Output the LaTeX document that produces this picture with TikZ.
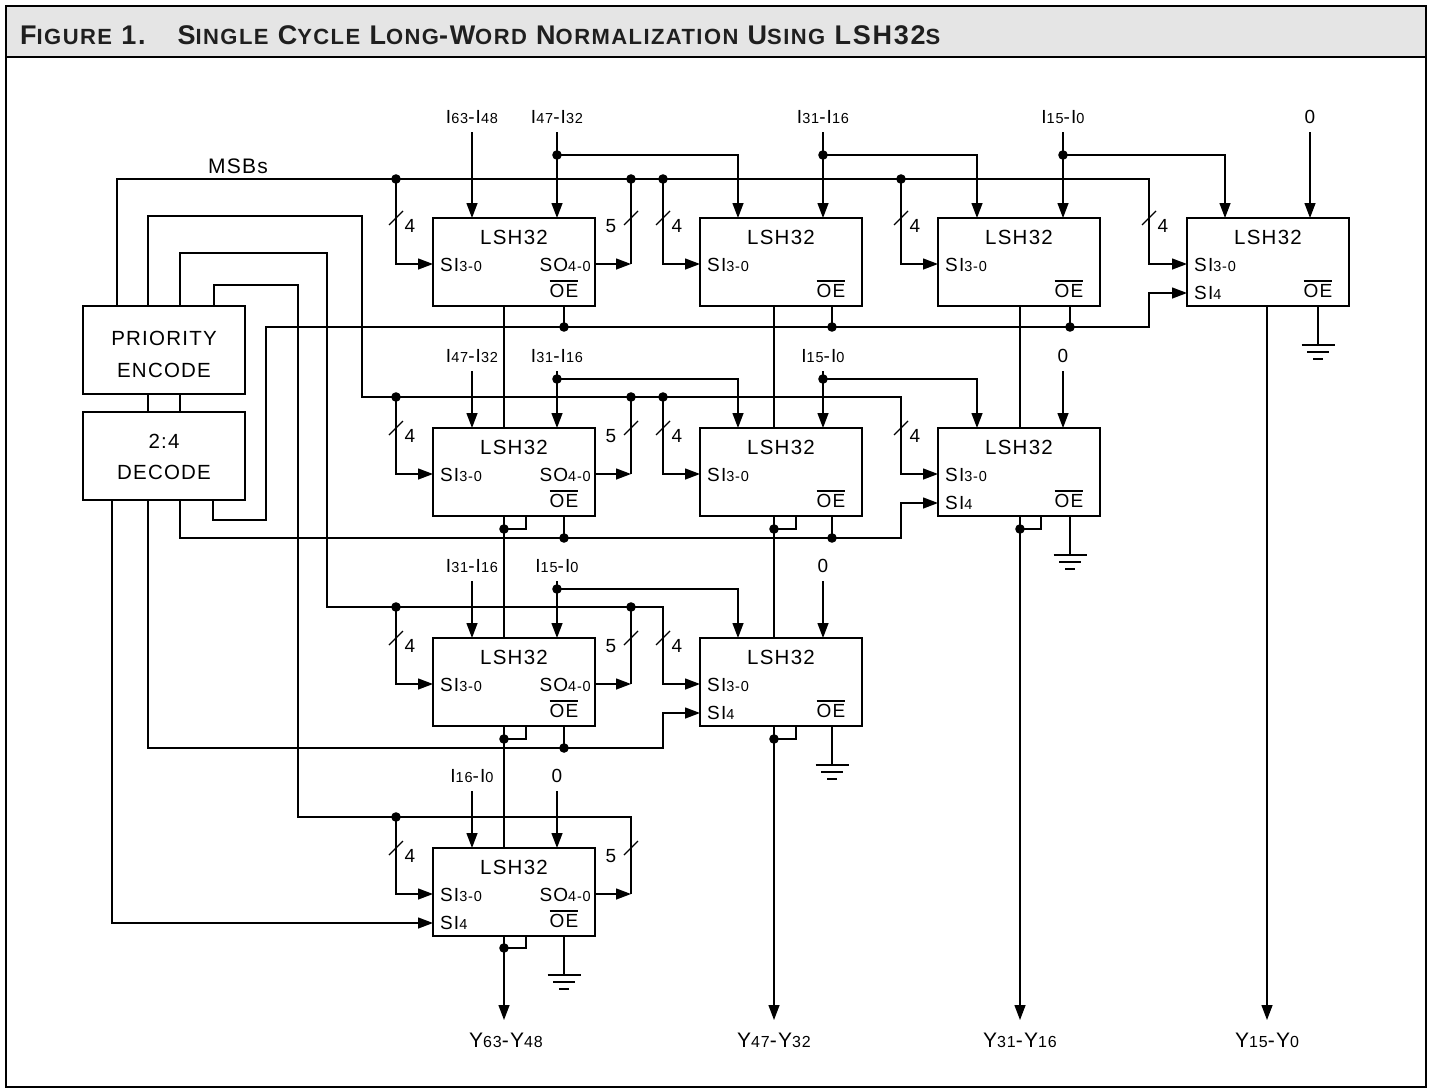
\documentclass[tikz,border=0pt]{standalone}
\usepackage{fontspec}
\setmainfont{Liberation Sans}[LetterSpace=6.0]
\newfontfamily\titlefont{Liberation Sans}[LetterSpace=6.5]
\usetikzlibrary{arrows.meta,calc}
\newcommand\lsub[1]{{\fontsize{14.5}{16}\selectfont #1}}
\newcommand\ysub[1]{{\fontsize{16}{18}\selectfont #1}}
\newcommand\ovl[1]{\vbox{\hrule height 1.4pt\kern 2pt\hbox{#1}}}
\newcommand\SC[2]{#1{\fontsize{22}{24}\selectfont #2}}
\begin{document}
\begin{tikzpicture}[x=1pt,y=-1pt,
  wire/.style={line width=1.35pt},
  arr/.style={wire,-{Triangle[length=15pt,width=11pt]}},
  lsh/.style={draw,line width=2.6pt,fill=white,minimum width=162pt,minimum height=88pt,anchor=north west,inner sep=0pt,outer sep=0pt},
  ctl/.style={draw,line width=2.6pt,fill=white,anchor=north west,inner sep=0pt,outer sep=0pt},
  txt/.style={font=\fontsize{19}{21}\selectfont,inner sep=0pt},
  big/.style={font=\fontsize{20.5}{24}\selectfont,inner sep=0pt},
  lab/.style={txt,anchor=base},
  ylab/.style={lab,font=\fontsize{21}{24}\selectfont},
  gnd/.pic={\draw[wire] (-16.5,0)--(16.5,0) (-11,7)--(11,7) (-5,14)--(5,14);}
]
\useasboundingbox (0,0) rectangle (1430,1092);
% frame and header
\fill[black!10] (6,6) rectangle (1426,57);
\draw[line width=2.4pt] (6,6) rectangle (1426,1087);
\draw[line width=2.4pt] (6,57) -- (1426,57);
\node[anchor=base west,inner sep=0pt,text=black!88,font=\titlefont\bfseries\fontsize{27}{28}\selectfont] (title) at (20,44)
  {\SC{F}{IGURE} 1.\hspace{32pt}\SC{S}{INGLE} \SC{C}{YCLE} \SC{L}{ONG}-\SC{W}{ORD} \SC{N}{ORMALIZATION} \SC{U}{SING} LSH32{\fontsize{22}{24}\selectfont S}};

% control boxes
\node[ctl,minimum width=162pt,minimum height=88pt] (pe) at (83,306) {};
\node[big,anchor=base] (pe1) at (164,345) {PRIORITY};
\node[big,anchor=base] (pe2) at (164,377) {ENCODE};
\node[ctl,minimum width=162pt,minimum height=88pt] (dec) at (83,412) {};
\node[big,anchor=base] (de1) at (164,448) {2:4};
\node[big,anchor=base] (de2) at (164,479) {DECODE};

% LSH32 boxes
\foreach \n/\L/\T in {b11/433/218,b12/700/218,b13/938/218,b14/1187/218,
                      b21/433/428,b22/700/428,b23/938/428,
                      b31/433/638,b32/700/638,b41/433/848}{
  \node[lsh] (\n) at (\L,\T) {};
  \node[big,anchor=base] (\n-t) at ($(\n.north west)+(81,26)$) {LSH32};
  \node[txt,anchor=base west] (\n-si) at ($(\n.north west)+(7,53)$) {SI\lsub{3-0}};
  \node[txt,anchor=base] (\n-oe) at ($(\n.north west)+(131,79)$) {\ovl{OE}};
  \coordinate (\n-a) at ($(\n.north west)+(0,46)$);
  \coordinate (\n-b) at ($(\n.north west)+(0,75)$);
  \coordinate (\n-o) at ($(\n.north east)+(0,46)$);
}
\foreach \n in {b11,b21,b31,b41}{
  \node[txt,anchor=base east] (\n-so) at ($(\n.north east)+(-4,53)$) {SO\lsub{4-0}};
}
\foreach \n in {b14,b23,b32,b41}{
  \node[txt,anchor=base west] (\n-s4) at ($(\n.north west)+(7,81)$) {SI\lsub{4}};
}

% ---- input labels and arrows
\node[lab] (i11) at (472,123) {I\lsub{63}-I\lsub{48}};
\node[lab] (i12) at (557,123) {I\lsub{47}-I\lsub{32}};
\node[lab] (i13) at (823,123) {I\lsub{31}-I\lsub{16}};
\node[lab] (i14) at (1063,123) {I\lsub{15}-I\lsub{0}};
\node[lab] (i15) at (1310,123) {0};
\node[lab] (i21) at (472,362) {I\lsub{47}-I\lsub{32}};
\node[lab] (i22) at (557,362) {I\lsub{31}-I\lsub{16}};
\node[lab] (i23) at (823,362) {I\lsub{15}-I\lsub{0}};
\node[lab] (i24) at (1063,362) {0};
\node[lab] (i31) at (472,572) {I\lsub{31}-I\lsub{16}};
\node[lab] (i32) at (557,572) {I\lsub{15}-I\lsub{0}};
\node[lab] (i33) at (823,572) {0};
\node[lab] (i41) at (472,782) {I\lsub{16}-I\lsub{0}};
\node[lab] (i42) at (557,782) {0};

\foreach \s/\b in {i11/b11,i12/b11,i13/b12,i14/b13,i15/b14,
                   i21/b21,i22/b21,i23/b22,i24/b23,
                   i31/b31,i32/b31,i33/b32,i41/b41,i42/b41}{
  \draw[arr] ([yshift=-9pt]\s.south) -- (\s.south |- \b.north);
}
% branches of the data inputs
\draw[arr] (557,155) -| (738,0 |- b12.north);
\draw[arr] (823,155) -| (977,0 |- b13.north);
\draw[arr] (1063,155) -| (1225,0 |- b14.north);
\draw[arr] (557,379) -| (738,0 |- b22.north);
\draw[arr] (823,379) -| (977,0 |- b23.north);
\draw[arr] (557,589) -| (738,0 |- b32.north);
\foreach \p in {(557,155),(823,155),(1063,155),(557,379),(823,379),(557,589)}
  \fill \p circle (4.8pt);

% ---- shift buses
\node[font=\fontsize{21}{24}\selectfont,inner sep=0pt,anchor=base] (msb) at (238,173) {MSBs};
\draw[arr] (pe.north -| 117,0) |- (1149,179) |- (b14-a);
\draw[arr] (396,179) |- (b11-a);
\draw[arr] (663,179) |- (b12-a);
\draw[arr] (901,179) |- (b13-a);
\draw[arr] (b11-o) -- (631,0 |- b11-o);
\draw[wire] (631,0 |- b11-o) -- (631,179);
\foreach \x in {396,631,663,901} \fill (\x,179) circle (4.8pt);

\draw[arr] (pe.north -| 148,0) |- (362,216) |- (901,397) |- (b23-a);
\draw[arr] (396,397) |- (b21-a);
\draw[arr] (663,397) |- (b22-a);
\draw[arr] (b21-o) -- (631,0 |- b21-o);
\draw[wire] (631,0 |- b21-o) -- (631,397);
\foreach \x in {396,631,663} \fill (\x,397) circle (4.8pt);

\draw[arr] (pe.north -| 180,0) |- (327,253) |- (663,607) |- (b32-a);
\draw[arr] (396,607) |- (b31-a);
\draw[arr] (b31-o) -- (631,0 |- b31-o);
\draw[wire] (631,0 |- b31-o) -- (631,607);
\foreach \x in {396,631} \fill (\x,607) circle (4.8pt);

\draw[wire] (pe.north -| 214,0) |- (298,285) |- (631,817) -- (631,0 |- b41-o);
\draw[arr] (396,817) |- (b41-a);
\draw[arr] (b41-o) -- (631,0 |- b41-o);
\fill (396,817) circle (4.8pt);

% bus-width marks
\foreach \x/\T in {396/218,396/428,396/638,396/848,663/218,663/428,663/638,901/218,901/428,1149/218}{
  \draw[wire] ({\x-7},{\T+7}) -- ({\x+7},{\T-7});
  \node[lab] at ({\x+14},{\T+14}) {4};
}
\foreach \T in {218,428,638,848}{
  \draw[wire] (624,{\T+7}) -- (638,{\T-7});
  \node[lab] at (611,{\T+14}) {5};
}

% ---- PE to decoder
\draw[wire] (pe.south -| 148,0) -- (dec.north -| 148,0);
\draw[wire] (pe.south -| 180,0) -- (dec.north -| 180,0);

% ---- enable lines
\draw[arr] (dec.south -| 213,0) |- (266,520) |- (1149,327) |- (b14-b);
\draw[wire] (b11.south -| 564,0) -- (564,327);
\draw[wire] (b12.south -| 832,0) -- (832,327);
\draw[wire] (b13.south -| 1070,0) -- (1070,327);
\foreach \x in {564,832,1070} \fill (\x,327) circle (4.8pt);

\draw[arr] (dec.south -| 180,0) |- (901,538) |- (b23-b);
\draw[wire] (b21.south -| 564,0) -- (564,538);
\draw[wire] (b22.south -| 832,0) -- (832,538);
\foreach \x in {564,832} \fill (\x,538) circle (4.8pt);

\draw[arr] (dec.south -| 148,0) |- (663,748) |- (b32-b);
\draw[wire] (b31.south -| 564,0) -- (564,748);
\fill (564,748) circle (4.8pt);

\draw[arr] (dec.south -| 112,0) |- (b41-b);

% grounds
\draw[wire] (b14.south -| 1318,0) -- (1318,345) pic {gnd};
\draw[wire] (b23.south -| 1070,0) -- (1070,555) pic {gnd};
\draw[wire] (b32.south -| 832,0) -- (832,765) pic {gnd};
\draw[wire] (b41.south -| 564,0) -- (564,975) pic {gnd};

% ---- outputs
\draw[wire] (b11.south -| 504,0) -- (b21.north -| 504,0);
\draw[wire] (b21.south -| 504,0) -- (b31.north -| 504,0);
\draw[wire] (b31.south -| 504,0) -- (b41.north -| 504,0);
\draw[wire] (b12.south -| 774,0) -- (b22.north -| 774,0);
\draw[wire] (b22.south -| 774,0) -- (b32.north -| 774,0);
\draw[wire] (b13.south -| 1020,0) -- (b23.north -| 1020,0);

\draw[wire] (b21.south -| 526,0) |- (504,529);
\draw[wire] (b31.south -| 526,0) |- (504,739);
\draw[wire] (b41.south -| 526,0) |- (504,948);
\draw[wire] (b22.south -| 796,0) |- (774,529);
\draw[wire] (b32.south -| 796,0) |- (774,739);
\draw[wire] (b23.south -| 1041,0) |- (1020,529);
\foreach \p in {(504,529),(504,739),(504,948),(774,529),(774,739),(1020,529)}
  \fill \p circle (4.8pt);

\node[ylab] (y1) at (506,1047) {Y\ysub{63}-Y\ysub{48}};
\node[ylab] (y2) at (774,1047) {Y\ysub{47}-Y\ysub{32}};
\node[ylab] (y3) at (1020,1047) {Y\ysub{31}-Y\ysub{16}};
\node[ylab] (y4) at (1267,1047) {Y\ysub{15}-Y\ysub{0}};
\draw[arr] (b41.south -| 504,0) -- (504,1020);
\draw[arr] (b32.south -| 774,0) -- (774,1020);
\draw[arr] (b23.south -| 1020,0) -- (1020,1020);
\draw[arr] (b14.south -| 1267,0) -- (1267,1020);
\end{tikzpicture}
\end{document}
